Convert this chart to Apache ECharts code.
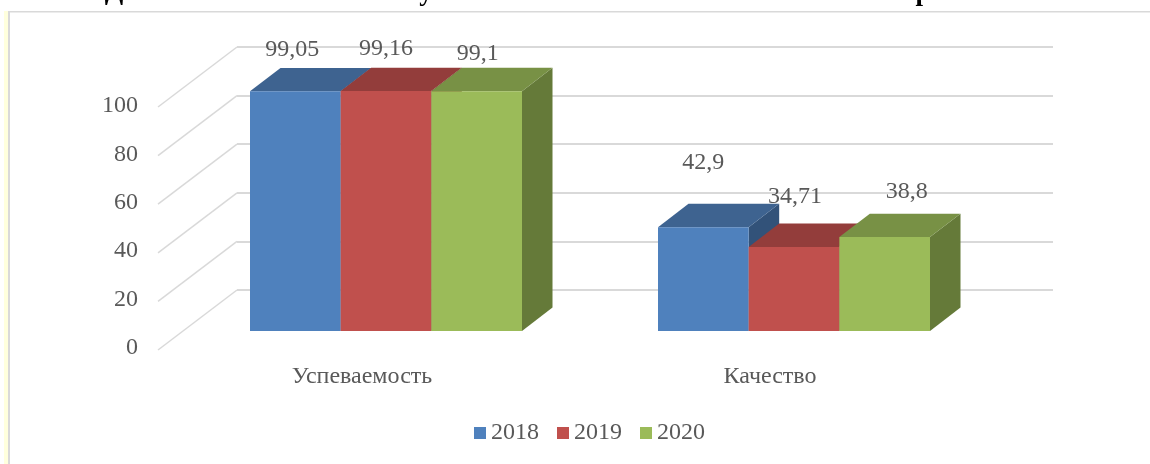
<!DOCTYPE html>
<html>
<head>
<meta charset="utf-8">
<style>
html,body{margin:0;padding:0;background:#fff;}
#chart{width:1150px;height:464px;}
</style>
<script src="https://cdn.jsdelivr.net/npm/echarts@6/dist/echarts.min.js"></script>
</head>
<body>
<div id="chart"></div>
<script>
var categories = ['Успеваемость', 'Качество'];
var years = ['2018', '2019', '2020'];
var values2018 = [99.05, 42.9];
var values2019 = [99.16, 34.71];
var values2020 = [99.1, 38.8];
var yTicks = [0, 20, 40, 60, 80, 100];

var font = '"Liberation Serif"';
var textColor = '#595959';
var gridColor = '#D9D9D9';
var barDepth = [30.5, -23.4];
var floorDepth = [79, -60];

// front, top and side colour of each year
var colors = [
    ['#4F81BD', '#3E6390', '#325279'],
    ['#C0504D', '#933D3B', '#7A3230'],
    ['#9BBB59', '#789145', '#657A39']
];
// data labels were moved by hand in the original chart: [dx, dy] from bar top centre
var labelShift = [
    [[-3, -42], [0, -64]],
    [[0, -42], [1, -50]],
    [[1, -37], [22, -45]]
];

function barRender(s) {
    return function (params, api) {
        var idx = api.value(0);
        var base = api.coord([idx, 0]);
        var top = api.coord([idx, api.value(1)]);
        var w = api.size([1, 0])[0] / 4.5;
        var x0 = base[0] + (s - 1.5) * w;
        var x1 = x0 + w;
        var y0 = base[1];
        var y1 = top[1];
        var dx = barDepth[0];
        var dy = barDepth[1];
        var shift = labelShift[s][idx];
        return {
            type: 'group',
            children: [
                {
                    type: 'polygon',
                    shape: {points: [[x1, y1], [x1 + dx, y1 + dy], [x1 + dx, y0 + dy], [x1, y0]]},
                    style: {fill: colors[s][2]}
                },
                {
                    type: 'polygon',
                    shape: {points: [[x0, y1], [x0 + dx, y1 + dy], [x1 + dx, y1 + dy], [x1, y1]]},
                    style: {fill: colors[s][1]}
                },
                {
                    type: 'rect',
                    shape: {x: x0, y: y1, width: w, height: y0 - y1},
                    style: {fill: colors[s][0]}
                },
                {
                    type: 'text',
                    z2: 50,
                    x: x0 + w / 2 + shift[0],
                    y: y1 + shift[1],
                    style: {
                        text: String(api.value(1)).replace('.', ','),
                        fill: textColor,
                        font: '24px ' + font,
                        align: 'center',
                        verticalAlign: 'middle'
                    }
                }
            ]
        };
    };
}

function floorRender(params, api) {
    var p = api.coord([0, api.value(1)]);
    var x = params.coordSys.x;
    return {
        type: 'line',
        shape: {x1: x, y1: p[1], x2: x - floorDepth[0], y2: p[1] - floorDepth[1]},
        style: {stroke: gridColor, lineWidth: 1.5}
    };
}

function hiddenX(i) {
    return {type: 'category', gridIndex: i, data: categories, show: false};
}
function hiddenY(i, split) {
    return {
        type: 'value', gridIndex: i, min: 0, max: 100, interval: 20,
        axisLine: {show: false}, axisTick: {show: false}, axisLabel: {show: false},
        splitLine: {show: split, lineStyle: {color: gridColor, width: 2}}
    };
}

var chartDom = document.getElementById('chart');
var myChart = echarts.init(chartDom);
var option = {
    animation: false,
    backgroundColor: '#fff',
    // 0: plane holding the axis labels, 1: back wall, 2: front of the bars
    grid: [
        {left: 158, top: 106, width: 816, height: 242},
        {left: 237, top: 47, width: 816, height: 243},
        {left: 182, top: 89, width: 816, height: 242}
    ],
    xAxis: [
        {
            type: 'category', gridIndex: 0, data: categories,
            axisLine: {show: false}, axisTick: {show: false},
            axisLabel: {color: textColor, fontFamily: font, fontSize: 24, margin: 17}
        },
        hiddenX(1),
        hiddenX(2)
    ],
    yAxis: [
        {
            type: 'value', gridIndex: 0, min: 0, max: 100, interval: 20,
            axisLine: {show: false}, axisTick: {show: false}, splitLine: {show: false},
            axisLabel: {
                color: textColor, fontFamily: font, fontSize: 24, margin: 20,
                formatter: function (v) { return yTicks.indexOf(v) >= 0 ? String(v) : ''; }
            }
        },
        hiddenY(1, true),
        hiddenY(2, false)
    ],
    legend: {
        data: years,
        left: 469,
        top: 416,
        icon: 'rect',
        itemWidth: 12,
        itemHeight: 12,
        itemGap: 18,
        textStyle: {color: textColor, fontFamily: font, fontSize: 24}
    },
    graphic: [
        {type: 'rect', shape: {x: 4, y: 11, width: 4, height: 453}, style: {fill: '#FFFFDD'}, silent: true},
        {type: 'rect', shape: {x: 8, y: 11, width: 2, height: 453}, style: {fill: '#D9D9D9'}, silent: true},
        {type: 'rect', shape: {x: 8, y: 11, width: 1142, height: 1.5}, style: {fill: '#D9D9D9'}, silent: true},
        // title of the page above the chart, cut off by the picture edge
        {type: 'text', x: 114, y: -21, style: {text: 'Д', fill: '#000', font: 'bold 27px ' + font, align: 'center'}},
        {type: 'text', x: 426, y: -20, style: {text: 'у', fill: '#000', font: 'bold 27px ' + font, align: 'center'}},
        {type: 'text', x: 923, y: -20, style: {text: 'р', fill: '#000', font: 'bold 27px ' + font, align: 'center'}}
    ],
    series: [
        {
            type: 'custom', name: 'floor', xAxisIndex: 1, yAxisIndex: 1,
            renderItem: floorRender, silent: true,
            data: yTicks.map(function (v) { return [0, v]; })
        },
        {
            type: 'custom', name: years[0], xAxisIndex: 2, yAxisIndex: 2,
            itemStyle: {color: colors[0][0]}, renderItem: barRender(0),
            data: values2018.map(function (v, i) { return [i, v]; })
        },
        {
            type: 'custom', name: years[1], xAxisIndex: 2, yAxisIndex: 2,
            itemStyle: {color: colors[1][0]}, renderItem: barRender(1),
            data: values2019.map(function (v, i) { return [i, v]; })
        },
        {
            type: 'custom', name: years[2], xAxisIndex: 2, yAxisIndex: 2,
            itemStyle: {color: colors[2][0]}, renderItem: barRender(2),
            data: values2020.map(function (v, i) { return [i, v]; })
        }
    ]
};
myChart.setOption(option);
</script>
</body>
</html>
